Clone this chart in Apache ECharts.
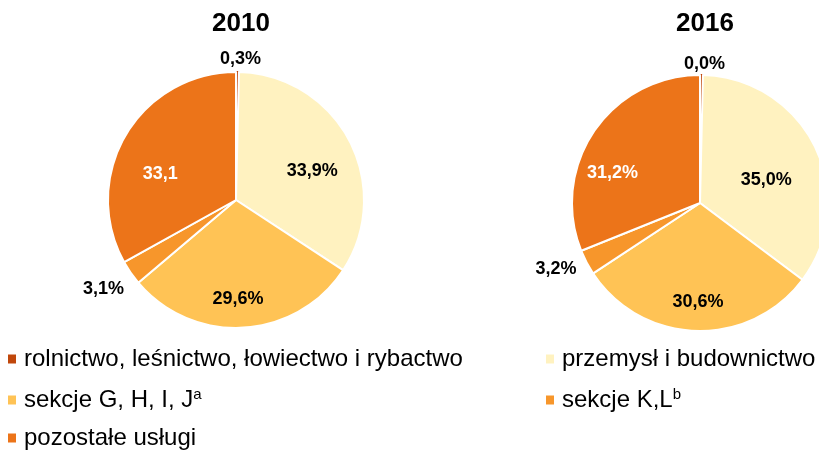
<!DOCTYPE html>
<html>
<head>
<meta charset="utf-8">
<script src="https://cdn.jsdelivr.net/npm/echarts@6/dist/echarts.min.js"></script>
<style>
  html, body { margin: 0; padding: 0; background: #fff; }
  #chart { width: 819px; height: 450px; }
</style>
</head>
<body>
<div id="chart"></div>
<script>
// dane
const categories = [
  'rolnictwo, leśnictwo, łowiectwo i rybactwo',
  'przemysł i budownictwo',
  'sekcje G, H, I, J',
  'sekcje K,L',
  'pozostałe usługi'
]
const years = ['2010', '2016']
const values2010 = [0.3, 33.9, 29.6, 3.1, 33.1]
const values2016 = [0.04, 35.0, 30.6, 3.2, 31.2]
const labels2010 = ['0,3%', '33,9%', '29,6%', '3,1%', '33,1']
const labels2016 = ['0,0%', '35,0%', '30,6%', '3,2%', '31,2%']

const colors = ['#C0470B', '#FFF2C0', '#FFC355', '#F7962B', '#EC7419']
const labelPos = ['outside', 'inside', 'inside', 'outside', 'inside']
const labelColor = ['#000', '#000', '#000', '#000', '#fff']
// przesunięcia etykiet (dx, dy)
const shift2010 = [[-22.5, -9], [17, 2], [-2, 32], [1.5, 14], [-18, 8]]
const shift2016 = [[-22.5, -7], [6, 6], [0, 32], [-1.5, 5], [-32, 8]]

const font = 'Liberation Sans, Arial, sans-serif'

function buildData(values, labels) {
  return values.map((v, i) => ({
    name: categories[i],
    value: v,
    // najmniejszy wycinek bez białej ramki, żeby był widoczny
    itemStyle: i === 0 ? { borderColor: colors[0] } : undefined,
    label: {
      position: labelPos[i],
      color: labelColor[i],
      formatter: labels[i]
    }
  }))
}

function pieSeries(values, labels, center, shifts) {
  return {
    type: 'pie',
    center: center,
    radius: [0, 128],
    startAngle: 90,
    clockwise: true,
    minAngle: 1.3,
    avoidLabelOverlap: false,
    itemStyle: { borderColor: '#fff', borderWidth: 2 },
    label: {
      fontFamily: font,
      fontWeight: 'bold',
      fontSize: 18
    },
    labelLine: { show: false, length: 4, length2: 0 },
    labelLayout: p => ({ dx: shifts[p.dataIndex][0], dy: shifts[p.dataIndex][1] }),
    emphasis: { disabled: true },
    data: buildData(values, labels)
  }
}

const legendText = {
  fontFamily: font,
  fontSize: 24,
  lineHeight: 26,
  color: '#000',
  padding: [0, 0, 0, 3],
  rich: { sup: { fontFamily: font, fontSize: 15, lineHeight: 26, verticalAlign: 'top', padding: [0, 0, 12, 0] } }
}
const legendFormatter = name => {
  if (name === categories[2]) return name + '{sup|a}'
  if (name === categories[3]) return name + '{sup|b}'
  return name
}
const legendPos = [[8, 346], [546, 346], [8, 387], [546, 387], [8, 425]]

const chart = echarts.init(document.getElementById('chart'))
chart.setOption({
  color: colors,
  animation: false,
  title: years.map((y, i) => ({
    text: y,
    left: i === 0 ? 236 : 700,
    top: 6,
    textAlign: 'center',
    textStyle: { fontFamily: font, fontWeight: 'bold', fontSize: 26, color: '#000' }
  })),
  legend: categories.map((c, i) => ({
    data: [c],
    left: legendPos[i][0],
    top: legendPos[i][1],
    padding: 0,
    icon: 'rect',
    itemWidth: 8,
    itemHeight: 9,
    itemGap: 0,
    itemStyle: { borderWidth: 0 },
    selectedMode: false,
    textStyle: legendText,
    formatter: legendFormatter
  })),
  series: [
    pieSeries(values2010, labels2010, [236, 200], shift2010),
    pieSeries(values2016, labels2016, [700, 203], shift2016)
  ]
})
</script>
</body>
</html>
